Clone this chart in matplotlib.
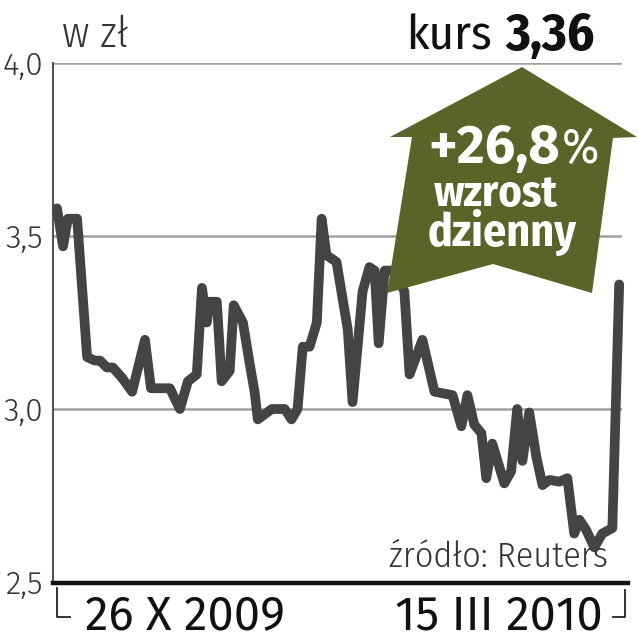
import matplotlib
matplotlib.use("Agg")
import matplotlib.pyplot as plt
from matplotlib.patches import Polygon
from matplotlib.lines import Line2D

# dni od 26 X 2009 (sesje)
dni = [0, 1.5, 2.7, 5.0, 7.5, 9.4, 10.7, 12.4, 13.9, 16.2, 18.7, 21.9, 23.4, 28.1,
       30.6, 32.6, 34.8, 36.1, 37.3, 38.0, 39.8, 41.0, 43.0, 44.0, 46.3, 48.0,
       49.2, 50.0, 53.5, 56.7, 58.4, 59.9, 61.2, 62.9, 64.7, 65.9, 67.1, 69.6,
       71.1, 72.4, 73.6, 76.1, 77.8, 79.1, 80.1, 81.6, 84.1, 86.5, 87.8, 91.0,
       94.0, 98.5, 100.7, 102.2, 103.9, 105.7, 106.9, 108.4, 111.4, 113.1,
       114.6, 115.9, 117.6, 119.4, 120.9, 122.6, 125.1, 127.1, 128.8, 130.1,
       131.8, 133.8, 135.8, 138.3, 140]
kurs = [3.58, 3.47, 3.55, 3.55, 3.15, 3.14, 3.14, 3.12, 3.12, 3.09, 3.05, 3.20,
        3.06, 3.06, 3.00, 3.08, 3.10, 3.35, 3.25, 3.31, 3.31, 3.08, 3.11, 3.30,
        3.25, 3.13, 3.05, 2.97, 3.00, 3.00, 2.97, 3.00, 3.18, 3.18, 3.25, 3.55,
        3.445, 3.425, 3.32, 3.23, 3.02, 3.34, 3.41, 3.40, 3.19, 3.40, 3.40, 3.34,
        3.10, 3.20, 3.05, 3.04, 2.95, 3.04, 2.955, 2.93, 2.80, 2.90, 2.785, 2.82,
        3.00, 2.85, 2.99, 2.86, 2.78, 2.795, 2.79, 2.80, 2.64, 2.68, 2.65, 2.60,
        2.64, 2.656, 3.36]
yticks = [2.5, 3.0, 3.5, 4.0]
ytick_labels = ["2,5", "3,0", "3,5", "4,0"]
data_od = "26 X 2009"
data_do = "15 III 2010"
zmiana = "+26,8"

W, H = 638, 640
COND = ["Fira Sans Condensed", "DejaVu Sans"]
REG = ["Fira Sans", "Roboto", "DejaVu Sans"]

fig = plt.figure(figsize=(W / 100, H / 100), dpi=100)
fig.patch.set_facecolor("white")

def fx(px):
    return px / W

def fy(py):
    return 1 - py / H

def napis(x, y, s, size, weight=400, color="#222222", ha="left", fam=COND):
    st = "condensed" if fam is COND else "normal"
    return fig.text(fx(x), fy(y), s, family=fam, stretch=st, fontsize=size,
                    weight=weight, color=color, ha=ha, va="baseline", zorder=6)

ax = fig.add_axes([fx(53), fy(582), fx(622) - fx(53), fy(63) - fy(582)])
ax.set_xlim(-1.0, 140.7)
ax.set_ylim(2.5, 4.0)
for s in ["top", "right", "bottom"]:
    ax.spines[s].set_visible(False)
ax.spines["left"].set_color("#555555")
ax.spines["left"].set_linewidth(1.5)
ax.set_xticks([])
ax.set_yticks(yticks)
ax.set_yticklabels(ytick_labels, family=REG, fontsize=23, weight=300, color="#333333")
ax.tick_params(axis="y", length=0, pad=7)
for v in [3.0, 3.5, 4.0]:
    ax.axhline(v, color="#a0a0a0", lw=1.8, zorder=1)

ax.plot(dni, kurs, color="#444444", lw=7, solid_joinstyle="round",
        solid_capstyle="round", zorder=3, clip_on=False)

# dolna os
fig.add_artist(Line2D([fx(53), fx(628)], [fy(583), fy(583)], color="#111111", lw=3.2))
fig.add_artist(Line2D([fx(57), fx(57), fx(70)], [fy(588), fy(617), fy(617)], color="#222222", lw=1.3))
fig.add_artist(Line2D([fx(613), fx(625), fx(625)], [fy(617), fy(617), fy(590)], color="#222222", lw=1.3))
napis(85, 629, data_od, 34, color="#111111", fam=REG)
napis(603, 629, data_do, 34, color="#111111", ha="right", fam=REG)

# naglowki
napis(62, 47, "w zł", 31, weight=300, color="#333333")
napis(492, 50, "kurs", 35, color="#111111", ha="right")
napis(505, 50, "3,36", 38, weight=700, color="#111111")

# strzalka
arrow = [(522, 67), (637, 137), (613, 138), (592, 293), (493, 264),
         (387, 293), (412, 137), (390, 137)]
fig.add_artist(Polygon([(fx(x), fy(y)) for x, y in arrow], closed=True,
                       facecolor="#5b6328", edgecolor="none", zorder=5))
napis(560, 163, zmiana, 39, weight=700, color="white", ha="right", fam=REG)
napis(562, 163, "%", 36, weight=400, color="white")
napis(496, 206, "wzrost", 32, weight=700, color="white", ha="center")
napis(502, 246, "dzienny", 33, weight=700, color="white", ha="center")

napis(608, 567, "źródło: Reuters", 26, weight=300, color="#333333", ha="right")

fig.savefig("out.png", dpi=100, facecolor="white")
